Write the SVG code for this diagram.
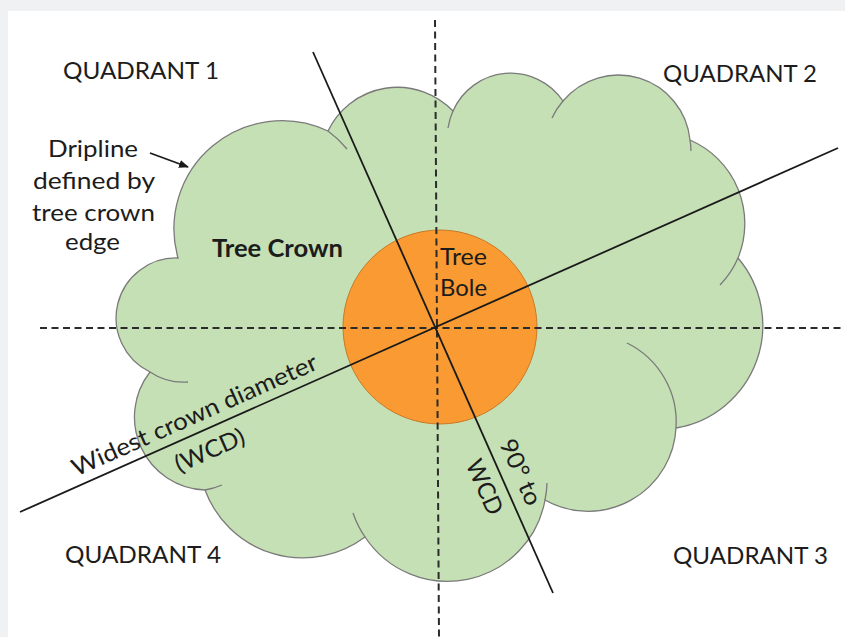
<svg xmlns="http://www.w3.org/2000/svg" width="845" height="637" viewBox="0 0 845 637">
  <defs>
    <style>
      .t { font-family: Lato, "Liberation Sans", sans-serif; font-size: 24px; fill: #1c1c1c; }
      .b { font-weight: bold; }
      .cloud { fill: #c5e0b4; stroke: #7a7a7a; stroke-width: 1.3; }
      .stub { fill: none; stroke: #7a7a7a; stroke-width: 1.3; }
      .dash { stroke: #2b2b2b; stroke-width: 2; stroke-dasharray: 7 4.5; fill: none; }
      .solid { stroke: #1a1a1a; stroke-width: 1.8; fill: none; }
    </style>
    <marker id="ah" markerWidth="10" markerHeight="8" refX="9" refY="4" orient="auto" markerUnits="userSpaceOnUse">
      <path d="M0,0 L10,4 L0,8 Z" fill="#1a1a1a"/>
    </marker>
  </defs>

  <rect x="0" y="0" width="845" height="637" fill="#f0f1f3"/>
  <rect x="8" y="11" width="837" height="626" fill="#ffffff"/>

  <g id="crown">
    <path class="cloud" d="M178,258 A108,108 0 0 1 328,131 A77,77 0 0 1 453,111 A63,63 0 0 1 563,101 A72,72 0 0 1 690,140 A91,91 0 0 1 738,258 A104,104 0 0 1 676,428 A88,88 0 0 1 545,500 A99,99 0 0 1 365,537 A104,104 0 0 1 205,490 A73,73 0 0 1 150,372 A60,60 0 0 1 178,258 Z"/>
    <path class="stub" d="M328,131 A108,108 0 0 1 347,149"/>
    <path class="stub" d="M448,128 A63,63 0 0 1 453,111"/>
    <path class="stub" d="M552,118 A72,72 0 0 1 563,101"/>
    <path class="stub" d="M690,140 A72,72 0 0 1 691,151"/>
    <path class="stub" d="M738,258 A91,91 0 0 1 720,285"/>
    <path class="stub" d="M627,343 A88,88 0 0 1 676,428"/>
    <path class="stub" d="M547,483 A99,99 0 0 1 545,500"/>
    <path class="stub" d="M365,537 A99,99 0 0 1 353,513"/>
    <path class="stub" d="M222,485 A73,73 0 0 1 205,490"/>
    <path class="stub" d="M188,382 A60,60 0 0 1 150,372"/>
    <text class="t b" x="212" y="257" textLength="131" lengthAdjust="spacingAndGlyphs">Tree Crown</text>
  </g>

  <g id="bole">
    <circle cx="440" cy="327" r="97" fill="#f99a32" stroke="#c97a28" stroke-width="1"/>
    <text class="t" x="440" y="265" textLength="47" lengthAdjust="spacingAndGlyphs">Tree</text>
    <text class="t" x="440" y="296" textLength="47" lengthAdjust="spacingAndGlyphs">Bole</text>
  </g>

  <g id="connectors">
    <line class="dash" x1="435" y1="20" x2="439" y2="637"/>
    <line class="dash" x1="40" y1="328" x2="845" y2="328"/>
    <line class="solid" x1="313" y1="52" x2="553" y2="593"/>
    <line class="solid" x1="20" y1="512" x2="838" y2="148"/>
    <line class="solid" x1="150" y1="153" x2="188" y2="167" stroke-width="1.6" marker-end="url(#ah)"/>
  </g>

  <g id="quadrant1"><text class="t" x="63" y="79" textLength="156" lengthAdjust="spacingAndGlyphs">QUADRANT 1</text></g>
  <g id="quadrant2"><text class="t" x="663" y="82" textLength="154" lengthAdjust="spacingAndGlyphs">QUADRANT 2</text></g>
  <g id="quadrant3"><text class="t" x="673" y="564" textLength="155" lengthAdjust="spacingAndGlyphs">QUADRANT 3</text></g>
  <g id="quadrant4"><text class="t" x="65" y="563" textLength="156" lengthAdjust="spacingAndGlyphs">QUADRANT 4</text></g>

  <g id="dripline-label">
    <text class="t" x="48" y="157" textLength="90" lengthAdjust="spacingAndGlyphs">Dripline</text>
    <text class="t" x="33" y="188.5" textLength="122" lengthAdjust="spacingAndGlyphs">defined by</text>
    <text class="t" x="32" y="220.5" textLength="123" lengthAdjust="spacingAndGlyphs">tree crown</text>
    <text class="t" x="65" y="250" textLength="55" lengthAdjust="spacingAndGlyphs">edge</text>
  </g>

  <g id="wcd-label" transform="translate(198,432.8) rotate(-24)">
    <text class="t" x="4" y="-9.4" text-anchor="middle" textLength="266" lengthAdjust="spacingAndGlyphs">Widest crown diameter</text>
    <text class="t" x="3.5" y="29" text-anchor="middle" textLength="74" lengthAdjust="spacingAndGlyphs">(WCD)</text>
  </g>

  <g id="perp-label" transform="translate(498.6,470) rotate(66)">
    <text class="t" x="11" y="-11" text-anchor="middle" textLength="70" lengthAdjust="spacingAndGlyphs">90° to</text>
    <text class="t" x="10" y="28" text-anchor="middle" textLength="58" lengthAdjust="spacingAndGlyphs">WCD</text>
  </g>
</svg>
